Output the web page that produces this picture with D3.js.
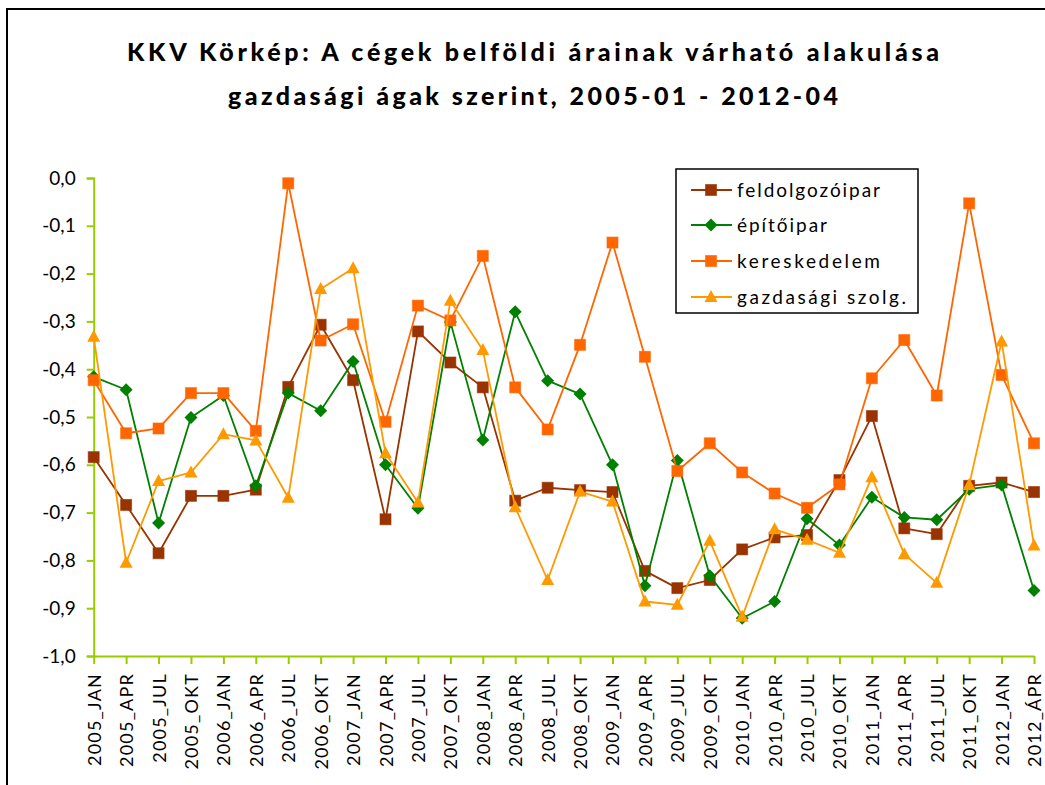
<!DOCTYPE html>
<html>
<head>
<meta charset="utf-8">
<script src="https://cdn.jsdelivr.net/npm/d3@7"></script>
<style>
  html, body { margin: 0; padding: 0; background: #fff; }
  svg { display: block; }
  text { font-family: Lato, "Open Sans", "DejaVu Sans", sans-serif; fill: #000; }
</style>
</head>
<body>
<svg id="chart" width="1045" height="785"></svg>
<script>
// Quarterly survey periods
const categories = [
  "2005_JAN", "2005_APR", "2005_JUL", "2005_OKT",
  "2006_JAN", "2006_APR", "2006_JUL", "2006_OKT",
  "2007_JAN", "2007_APR", "2007_JUL", "2007_OKT",
  "2008_JAN", "2008_APR", "2008_JUL", "2008_OKT",
  "2009_JAN", "2009_APR", "2009_JUL", "2009_OKT",
  "2010_JAN", "2010_APR", "2010_JUL", "2010_OKT",
  "2011_JAN", "2011_APR", "2011_JUL", "2011_OKT",
  "2012_JAN", "2012_ÁPR"
];

const feldolgozoipar = [
  -0.584, -0.684, -0.785, -0.665, -0.665, -0.652, -0.437, -0.307, -0.423, -0.714,
  -0.321, -0.386, -0.438, -0.675, -0.648, -0.653, -0.657, -0.822, -0.858, -0.841,
  -0.777, -0.752, -0.747, -0.632, -0.498, -0.733, -0.745, -0.644, -0.637, -0.657
];

const epitoipar = [
  -0.416, -0.443, -0.722, -0.501, -0.455, -0.644, -0.450, -0.487, -0.384, -0.600,
  -0.691, -0.301, -0.548, -0.280, -0.424, -0.452, -0.600, -0.853, -0.591, -0.832,
  -0.921, -0.886, -0.713, -0.768, -0.668, -0.710, -0.715, -0.651, -0.642, -0.863
];

const kereskedelem = [
  -0.423, -0.534, -0.524, -0.450, -0.450, -0.529, -0.011, -0.340, -0.306, -0.510,
  -0.267, -0.298, -0.163, -0.438, -0.526, -0.349, -0.135, -0.374, -0.613, -0.555,
  -0.616, -0.660, -0.690, -0.641, -0.419, -0.339, -0.455, -0.053, -0.412, -0.555
];

const gazdasagiSzolg = [
  -0.332, -0.805, -0.634, -0.616, -0.536, -0.549, -0.669, -0.232, -0.189, -0.576,
  -0.679, -0.257, -0.360, -0.689, -0.841, -0.656, -0.677, -0.886, -0.893, -0.759,
  -0.918, -0.735, -0.757, -0.784, -0.626, -0.787, -0.847, -0.642, -0.342, -0.769
];

const seriesNames = ["feldolgozóipar", "építőipar", "kereskedelem", "gazdasági szolg."];
const seriesColors = ["#993300", "#008000", "#FF6600", "#FF9900"];
const seriesMarkers = ["square", "diamond", "square", "triangle"];
const yTicks = [0, -0.1, -0.2, -0.3, -0.4, -0.5, -0.6, -0.7, -0.8, -0.9, -1.0];

const titleLines = [
  "KKV Körkép: A cégek belföldi árainak várható alakulása",
  "gazdasági ágak szerint, 2005-01 - 2012-04"
];

const seriesValues = [feldolgozoipar, epitoipar, kereskedelem, gazdasagiSzolg];

const svg = d3.select("#chart");
const W = 1045, H = 785;

svg.append("rect").attr("width", W).attr("height", H).attr("fill", "#fff");

// outer chart frame
svg.append("rect")
  .attr("x", 7).attr("y", 9)
  .attr("width", W + 20).attr("height", H + 20)
  .attr("fill", "none").attr("stroke", "#000").attr("stroke-width", 2);

// title
const titleWidths = [812, 610];
titleLines.forEach((t, i) => {
  svg.append("text")
    .attr("x", 533)
    .attr("y", 61 + i * 44)
    .attr("text-anchor", "middle")
    .attr("font-size", 25)
    .attr("font-weight", "900")
    .attr("textLength", titleWidths[i])
    .attr("lengthAdjust", "spacing")
    .text(t);
});

const x = d3.scalePoint().domain(categories).range([93.7, 1034]);
const y = d3.scaleLinear().domain([-1, 0]).range([656, 178]);

const axisColor = "#99CC00";

// y axis
const yAxis = svg.append("g")
  .attr("transform", "translate(93.7,0)")
  .call(d3.axisLeft(y).tickValues(yTicks).tickSize(7).tickPadding(11)
    .tickFormat(d => d3.format(".1f")(d).replace(".", ",").replace("−", "-")));
yAxis.select(".domain").attr("stroke", axisColor).attr("stroke-width", 2);
yAxis.selectAll(".tick line").attr("stroke", axisColor).attr("stroke-width", 2);
yAxis.selectAll(".tick text")
  .attr("font-size", 19)
  .attr("font-family", "Lato, 'Open Sans', sans-serif")
  .attr("fill", "#000");

// x axis
const xAxis = svg.append("g")
  .attr("transform", "translate(0,656)")
  .call(d3.axisBottom(x).tickSize(8).tickSizeOuter(0).tickPadding(0));
xAxis.select(".domain").attr("stroke", axisColor).attr("stroke-width", 2);
xAxis.selectAll(".tick line").attr("stroke", axisColor).attr("stroke-width", 2);
xAxis.selectAll(".tick text")
  .attr("font-size", 18)
  .attr("font-family", "Lato, 'Open Sans', sans-serif")
  .attr("fill", "#000")
  .attr("letter-spacing", 1.2)
  .attr("text-anchor", "end")
  .attr("transform", "rotate(-90)")
  .attr("x", -17)
  .attr("y", 0)
  .attr("dy", "0.36em");

// marker drawing helper
function drawMarker(g, type, cx, cy, color) {
  if (type === "square") {
    g.append("rect")
      .attr("x", cx - 5.5).attr("y", cy - 5.5)
      .attr("width", 11).attr("height", 11)
      .attr("fill", color).attr("stroke", color).attr("stroke-opacity", 0.6).attr("stroke-width", 1);
  } else if (type === "diamond") {
    g.append("path")
      .attr("d", `M${cx},${cy - 6.5}L${cx + 6.5},${cy}L${cx},${cy + 6.5}L${cx - 6.5},${cy}Z`)
      .attr("fill", color);
  } else {
    g.append("path")
      .attr("d", `M${cx},${cy - 7}L${cx + 6.5},${cy + 5}L${cx - 6.5},${cy + 5}Z`)
      .attr("fill", color);
  }
}

const line = d3.line().x((d, i) => x(categories[i])).y(d => y(d));

seriesValues.forEach((vals, s) => {
  const g = svg.append("g");
  g.append("path")
    .datum(vals)
    .attr("d", line)
    .attr("fill", "none")
    .attr("stroke", seriesColors[s])
    .attr("stroke-width", 1.8)
    .attr("stroke-linejoin", "round");
  vals.forEach((v, i) => drawMarker(g, seriesMarkers[s], x(categories[i]), y(v), seriesColors[s]));
});

// legend
const lg = svg.append("g");
lg.append("rect")
  .attr("x", 676).attr("y", 169)
  .attr("width", 242).attr("height", 144)
  .attr("fill", "#fff").attr("stroke", "#000").attr("stroke-width", 1.5);
const legendRows = [190, 225, 261, 297];
const legendWidths = [143, 90, 143, 169];
seriesNames.forEach((name, s) => {
  const ry = legendRows[s];
  lg.append("line")
    .attr("x1", 691).attr("x2", 732).attr("y1", ry).attr("y2", ry)
    .attr("stroke", seriesColors[s]).attr("stroke-width", 1.8);
  drawMarker(lg, seriesMarkers[s], 711, ry, seriesColors[s]);
  lg.append("text")
    .attr("x", 737).attr("y", ry)
    .attr("dy", "0.35em")
    .attr("font-size", 19)
    .attr("textLength", legendWidths[s])
    .attr("lengthAdjust", "spacing")
    .text(name);
});
</script>
</body>
</html>
